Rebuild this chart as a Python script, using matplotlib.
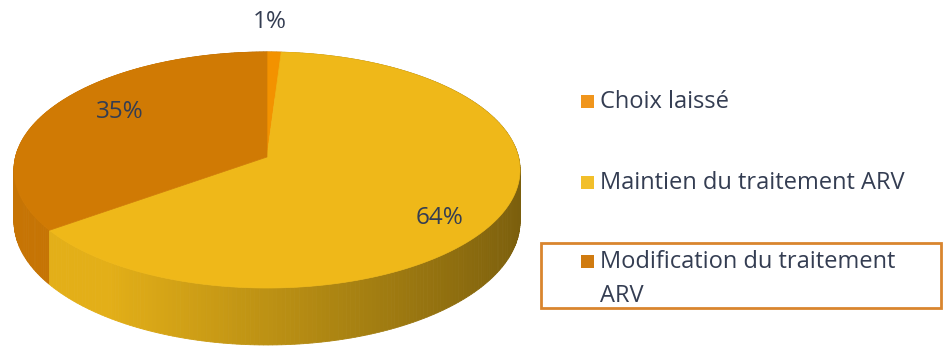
import numpy as np
import matplotlib.pyplot as plt
from matplotlib.patches import Polygon, Rectangle
from matplotlib.colors import to_rgb

plt.rcParams['font.family'] = ['Open Sans', 'DejaVu Sans']

# Répartition des décisions (%)
labels = ['Choix laissé', 'Maintien du traitement ARV', 'Modification du traitement\nARV']
values = [1, 64, 35]
colors = ['#f39200', '#efb819', '#d07a04']
legend_colors = ['#f0951c', '#f2bf2a', '#d07b10']
label_pos = [(270, 22), (440, 218), (120, 112)]

text_color = '#343d52'

# 3D pie geometry (pixel space, y down)
cx, cy = 267, 157
a, b = 251.5, 116.6
p = 0.11          # perspective strength
depth = 50.7


def project(phi, r=1.0):
    # phi: angle clockwise from 12 o'clock
    u = r * np.sin(phi)
    v = -r * np.cos(phi)
    k = 1.0 / (1.0 - p * v)
    return cx + a * u * k, cy + b * v * k, k, u, v


def shade(color, f):
    rgb = np.array(to_rgb(color)) * f
    return tuple(np.clip(rgb, 0, 1))


fig = plt.figure(figsize=(9.43, 3.48), dpi=100)
ax = fig.add_axes([0, 0, 1, 1])
ax.set_xlim(0, 943)
ax.set_ylim(348, 0)
ax.axis('off')

bounds = np.concatenate([[0], np.cumsum(values)]) / sum(values) * 2 * np.pi

# outer sides first, back to front
strips = []
for i in range(len(values)):
    phis = np.linspace(bounds[i], bounds[i + 1], max(3, int(values[i] * 4)))
    for j in range(len(phis) - 1):
        x0, y0, k0, u0, v0 = project(phis[j])
        x1, y1, k1, u1, v1 = project(phis[j + 1])
        um = (u0 + u1) / 2
        f = min(0.95, 0.79 - 0.28 * um)
        col = shade(colors[i], f)
        pts = [(x0, y0), (x1, y1), (x1, y1 + depth * k1), (x0, y0 + depth * k0)]
        strips.append(((v0 + v1) / 2, pts, col))

for v, pts, col in sorted(strips, key=lambda s: s[0]):
    ax.add_patch(Polygon(pts, closed=True, facecolor=col, edgecolor=col,
                         lw=0.6, zorder=2 + v))

# top faces
for i in range(len(values)):
    phis = np.linspace(bounds[i], bounds[i + 1], max(3, int(values[i] * 4)))
    xs, ys, _, _, _ = project(phis)
    pts = [(cx, cy)] + list(zip(xs, ys))
    ax.add_patch(Polygon(pts, closed=True, facecolor=colors[i],
                         edgecolor=colors[i], lw=0.5, zorder=5))

# percentage labels
for val, (x, y) in zip(values, label_pos):
    ax.text(x, y, f'{val}%', ha='center', va='center', fontsize=17.5,
            color=text_color, zorder=6)

# legend
leg_x = 581
leg_y = [102, 183, 262]
line_gap = 34
for lab, col, y in zip(labels, legend_colors, leg_y):
    ax.add_patch(Rectangle((leg_x, y - 7), 13, 13, facecolor=col,
                           edgecolor='none', zorder=6))
    for n, line in enumerate(lab.split('\n')):
        ax.text(leg_x + 19, y + n * line_gap, line, ha='left', va='center',
                fontsize=17, color=text_color, zorder=6)

ax.add_patch(Rectangle((541, 243), 400, 65, facecolor='none',
                       edgecolor='#d9852e', lw=2, zorder=6))

fig.savefig('out.png', dpi=100)
